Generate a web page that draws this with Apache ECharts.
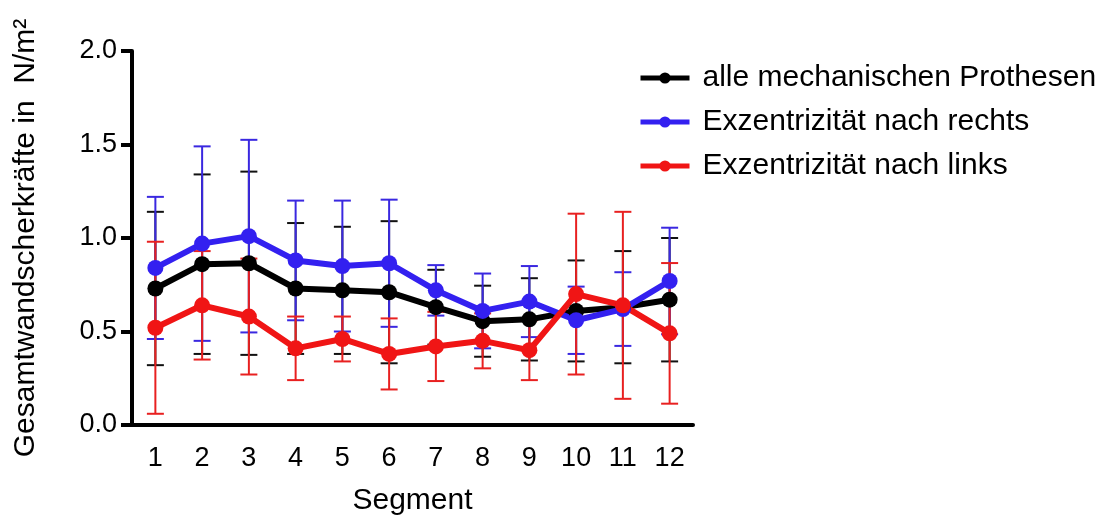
<!DOCTYPE html>
<html>
<head>
<meta charset="utf-8">
<script src="https://cdn.jsdelivr.net/npm/echarts@6/dist/echarts.min.js"></script>
<style>
  html, body { margin: 0; padding: 0; background: #fff; }
  #chart { width: 1111px; height: 525px; }
</style>
</head>
<body>
<div id="chart"></div>
<script>
// Segmente 1..12
const segments = ['1', '2', '3', '4', '5', '6', '7', '8', '9', '10', '11', '12'];
const yTicks = [0, 0.5, 1.0, 1.5, 2.0];

// Mittelwerte und Standardabweichungen
const alleMean = [0.73, 0.86, 0.865, 0.73, 0.72, 0.71, 0.63, 0.555, 0.565, 0.61, 0.63, 0.67];
const alleSd   = [0.41, 0.48, 0.49, 0.35, 0.34, 0.38, 0.20, 0.19, 0.22, 0.27, 0.30, 0.33];
const rechtsMean = [0.84, 0.97, 1.01, 0.88, 0.85, 0.865, 0.72, 0.61, 0.66, 0.56, 0.62, 0.77];
const rechtsSd   = [0.38, 0.52, 0.515, 0.32, 0.35, 0.34, 0.135, 0.20, 0.19, 0.18, 0.197, 0.285];
const linksMean = [0.52, 0.64, 0.58, 0.41, 0.46, 0.38, 0.42, 0.45, 0.40, 0.70, 0.64, 0.49];
const linksSd   = [0.46, 0.29, 0.31, 0.17, 0.12, 0.19, 0.185, 0.147, 0.16, 0.43, 0.50, 0.376];

const names = ['alle mechanischen Prothesen', 'Exzentrizität nach rechts', 'Exzentrizität nach links'];

const FONT = '"Liberation Sans", Arial, sans-serif';

const chart = echarts.init(document.getElementById('chart'), null, { renderer: 'canvas' });

// Fehlerbalken (Mittelwert ± SD) als custom series
function errorBars(id, mean, sd, color) {
  return {
    name: id,
    type: 'custom',
    silent: true,
    itemStyle: { color: color },
    renderItem: function (params, api) {
      const x = api.value(0);
      const lo = api.coord([x, api.value(1)]);
      const hi = api.coord([x, api.value(2)]);
      const w = 8.5;
      const style = { stroke: color, lineWidth: 2 };
      return {
        type: 'group',
        children: [
          { type: 'line', shape: { x1: lo[0], y1: lo[1], x2: hi[0], y2: hi[1] }, style: style },
          { type: 'line', shape: { x1: lo[0] - w, y1: lo[1], x2: lo[0] + w, y2: lo[1] }, style: style },
          { type: 'line', shape: { x1: hi[0] - w, y1: hi[1], x2: hi[0] + w, y2: hi[1] }, style: style }
        ]
      };
    },
    encode: { x: 0, y: [1, 2] },
    data: mean.map((m, i) => [i, m - sd[i], m + sd[i]])
  };
}

function lineSeries(name, mean, color) {
  return {
    name: name,
    type: 'line',
    data: mean,
    symbol: 'circle',
    symbolSize: 16,
    lineStyle: { color: color, width: 6 },
    itemStyle: { color: color },
    emphasis: { disabled: true }
  };
}

const option = {
  backgroundColor: '#fff',
  animation: false,
  textStyle: { fontFamily: FONT },
  legend: {
    orient: 'vertical',
    left: 633,
    top: 58,
    itemWidth: 49,
    itemHeight: 14,
    itemGap: 14,
    data: names,
    lineStyle: { width: 5 },
    textStyle: { color: '#000', fontSize: 30, lineHeight: 30, fontFamily: FONT, padding: [0, 0, 0, 8] }
  },
  grid: {
    left: 132,
    right: 418,
    top: 51,
    bottom: 100
  },
  xAxis: {
    type: 'category',
    data: segments,
    boundaryGap: true,
    name: 'Segment',
    nameLocation: 'middle',
    nameGap: 61,
    nameTextStyle: { color: '#000', fontSize: 30, fontFamily: FONT },
    axisLine: { lineStyle: { color: '#000', width: 4 } },
    axisTick: { alignWithLabel: true, length: 11, lineStyle: { color: '#000', width: 4 } },
    axisLabel: { color: '#000', fontSize: 27, fontFamily: FONT, margin: 20 },
    splitLine: { show: false }
  },
  yAxis: {
    type: 'value',
    min: yTicks[0],
    max: yTicks[yTicks.length - 1],
    interval: 0.5,
    name: 'Gesamtwandscherkräfte in  N/m²',
    nameLocation: 'middle',
    nameRotate: 90,
    nameGap: 91,
    nameTextStyle: { color: '#000', fontSize: 30, fontFamily: FONT },
    axisLine: { show: true, lineStyle: { color: '#000', width: 4 } },
    axisTick: { show: true, length: 11, lineStyle: { color: '#000', width: 4 } },
    axisLabel: {
      color: '#000', fontSize: 27, fontFamily: FONT, margin: 15,
      formatter: v => v.toFixed(1)
    },
    splitLine: { show: false }
  },
  series: [
    errorBars('err_alle', alleMean, alleSd, '#111'),
    lineSeries(names[0], alleMean, '#000'),
    errorBars('err_rechts', rechtsMean, rechtsSd, '#3a28e0'),
    lineSeries(names[1], rechtsMean, '#3320f0'),
    errorBars('err_links', linksMean, linksSd, '#e82020'),
    lineSeries(names[2], linksMean, '#f01515')
  ]
};

chart.setOption(option);
</script>
</body>
</html>
